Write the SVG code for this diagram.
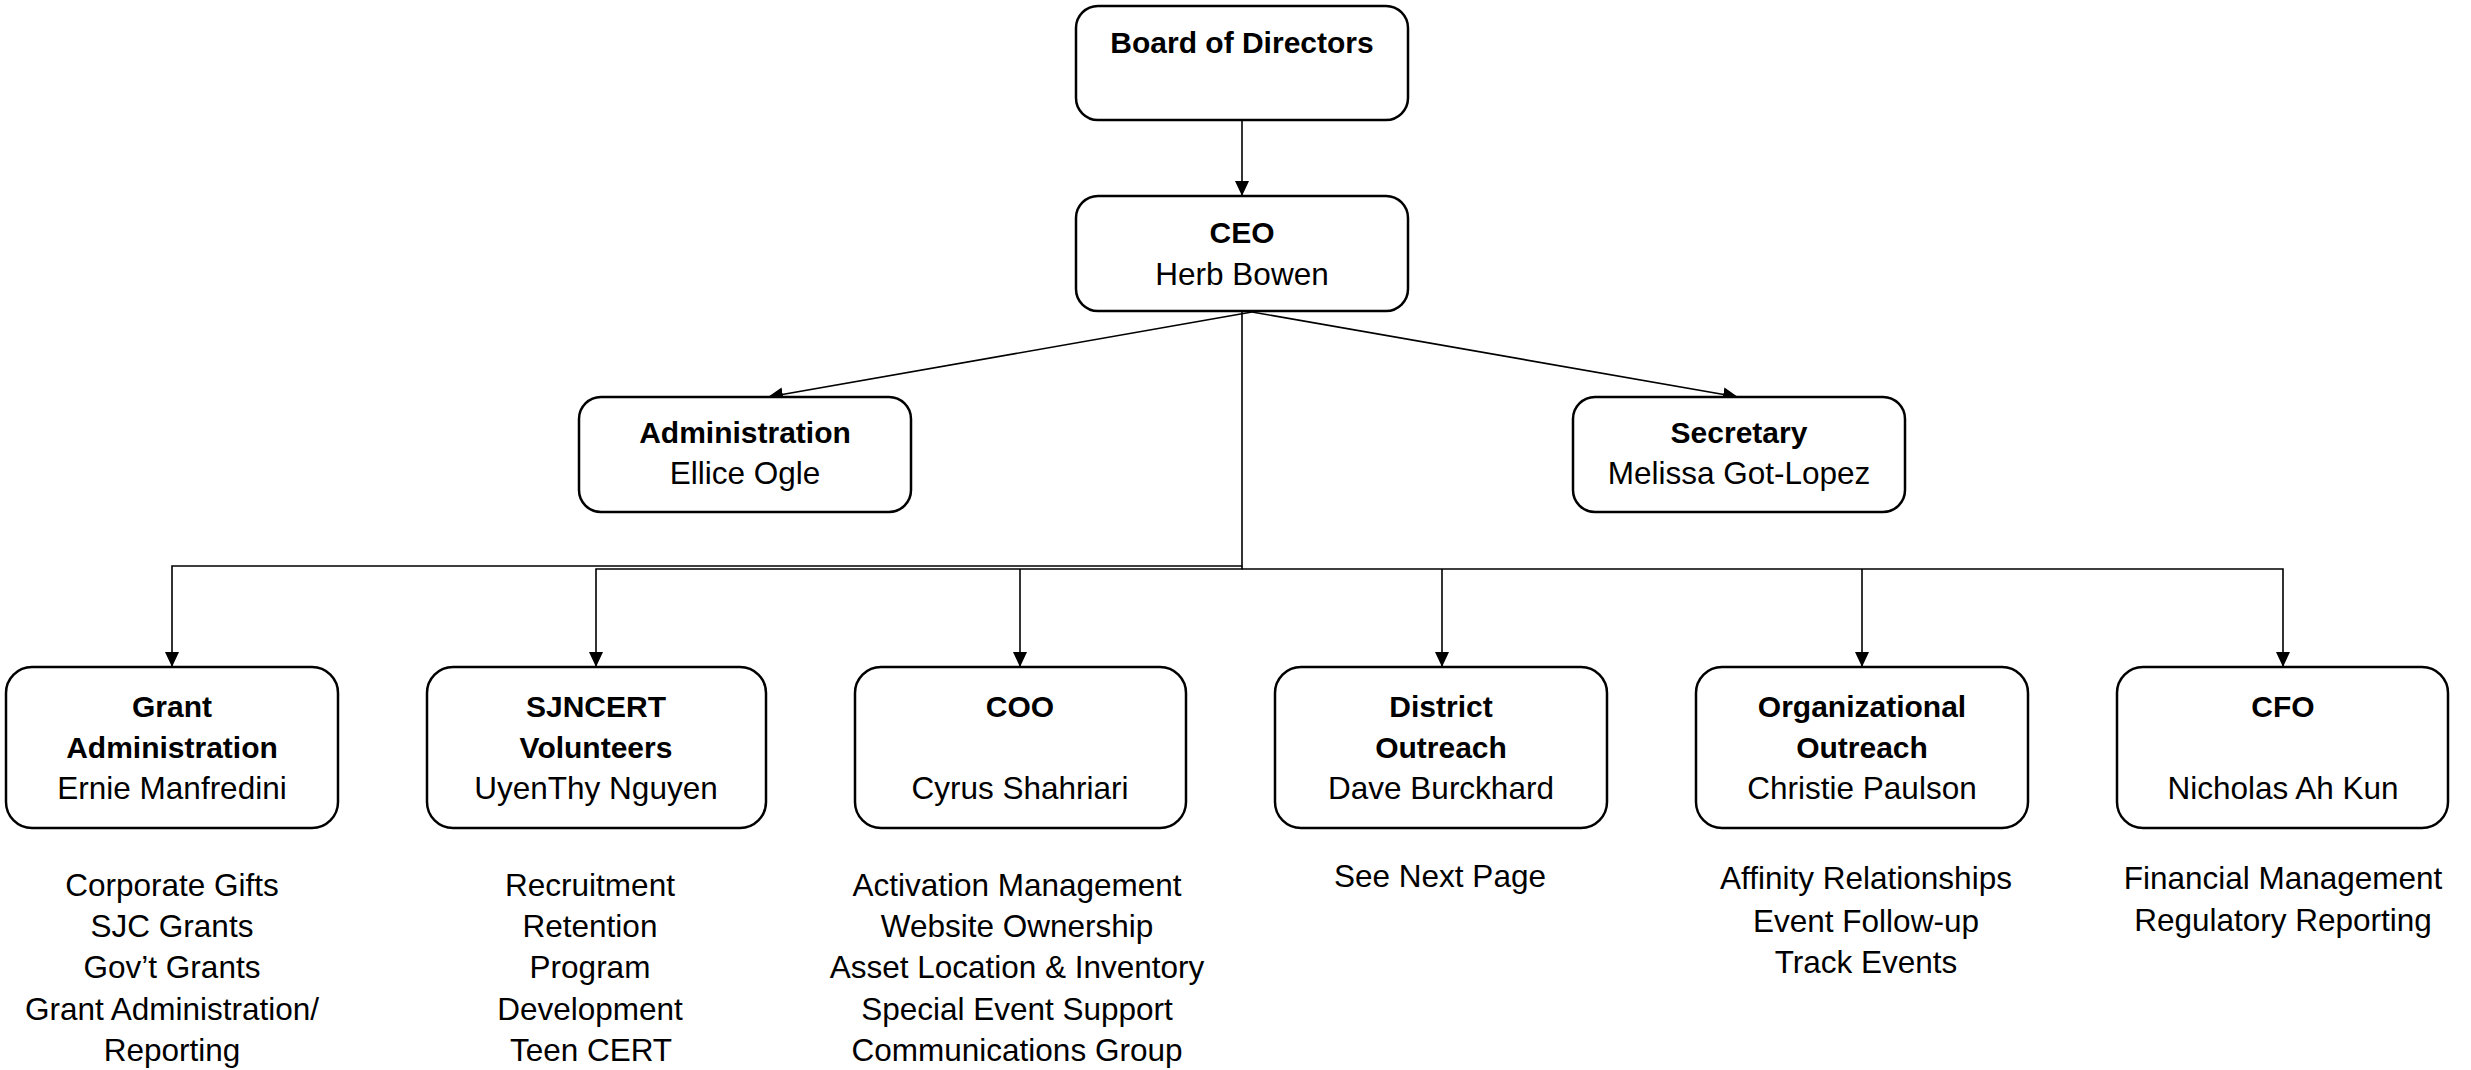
<svg xmlns="http://www.w3.org/2000/svg" width="2471" height="1070" viewBox="0 0 2471 1070">
<defs>
<style>
.box{fill:#fff;stroke:#000;stroke-width:2.5}
.t{font-family:"Liberation Sans",Arial,sans-serif;font-size:31.5px;fill:#000;text-anchor:middle}
.b{font-weight:bold;font-size:30px}
.c{fill:none;stroke:#000;stroke-width:1.6}
</style>
<marker id="arr" markerUnits="userSpaceOnUse" markerWidth="16" markerHeight="16" viewBox="0 0 16 16" refX="15" refY="8" orient="auto">
<path d="M0,1 L15,8 L0,15 Z" fill="#000"/>
</marker>
</defs>
<rect width="2471" height="1070" fill="#fff"/>
<g id="connectors">
<line class="c" x1="1242" y1="120" x2="1242" y2="196" marker-end="url(#arr)"/>
<line class="c" x1="1252" y1="312" x2="768" y2="397" marker-end="url(#arr)"/>
<line class="c" x1="1252" y1="312" x2="1738" y2="397" marker-end="url(#arr)"/>
<polyline class="c" points="1242,311 1242,566 172,566 172,667" marker-end="url(#arr)"/>
<polyline class="c" points="1242,566 1242,569 596,569 596,667" marker-end="url(#arr)"/>
<polyline class="c" points="1020,569 1020,667" marker-end="url(#arr)"/>
<polyline class="c" points="1242,569 2283,569 2283,667" marker-end="url(#arr)"/>
<polyline class="c" points="1442,569 1442,667" marker-end="url(#arr)"/>
<polyline class="c" points="1862,569 1862,667" marker-end="url(#arr)"/>
</g>
<g id="board">
<rect class="box" x="1076" y="6" width="332" height="114" rx="22"/>
<text class="t b" x="1242" y="53">Board of Directors</text>
</g>
<g id="ceo">
<rect class="box" x="1076" y="196" width="332" height="115" rx="22"/>
<text class="t b" x="1242" y="243">CEO</text>
<text class="t" x="1242" y="285">Herb Bowen</text>
</g>
<g id="administration">
<rect class="box" x="579" y="397" width="332" height="115" rx="22"/>
<text class="t b" x="745" y="443">Administration</text>
<text class="t" x="745" y="484">Ellice Ogle</text>
</g>
<g id="secretary">
<rect class="box" x="1573" y="397" width="332" height="115" rx="22"/>
<text class="t b" x="1739" y="443">Secretary</text>
<text class="t" x="1739" y="484">Melissa Got-Lopez</text>
</g>
<g id="grant">
<rect class="box" x="6" y="667" width="332" height="161" rx="26"/>
<text class="t b" x="172" y="717">Grant</text>
<text class="t b" x="172" y="758">Administration</text>
<text class="t" x="172" y="799">Ernie Manfredini</text>
<text class="t" x="172" y="896">Corporate Gifts</text>
<text class="t" x="172" y="937">SJC Grants</text>
<text class="t" x="172" y="978">Gov’t Grants</text>
<text class="t" x="172" y="1020">Grant Administration/</text>
<text class="t" x="172" y="1061">Reporting</text>
</g>
<g id="sjncert">
<rect class="box" x="427" y="667" width="339" height="161" rx="26"/>
<text class="t b" x="596" y="717">SJNCERT</text>
<text class="t b" x="596" y="758">Volunteers</text>
<text class="t" x="596" y="799">UyenThy Nguyen</text>
<text class="t" x="590" y="896">Recruitment</text>
<text class="t" x="590" y="937">Retention</text>
<text class="t" x="590" y="978">Program</text>
<text class="t" x="590" y="1020">Development</text>
<text class="t" x="591" y="1061">Teen CERT</text>
</g>
<g id="coo">
<rect class="box" x="855" y="667" width="331" height="161" rx="26"/>
<text class="t b" x="1020" y="717">COO</text>
<text class="t" x="1020" y="799">Cyrus Shahriari</text>
<text class="t" x="1017" y="896">Activation Management</text>
<text class="t" x="1017" y="937">Website Ownership</text>
<text class="t" x="1017" y="978">Asset Location &amp; Inventory</text>
<text class="t" x="1017" y="1020">Special Event Support</text>
<text class="t" x="1017" y="1061">Communications Group</text>
</g>
<g id="district">
<rect class="box" x="1275" y="667" width="332" height="161" rx="26"/>
<text class="t b" x="1441" y="717">District</text>
<text class="t b" x="1441" y="758">Outreach</text>
<text class="t" x="1441" y="799">Dave Burckhard</text>
<text class="t" x="1440" y="887">See Next Page</text>
</g>
<g id="organizational">
<rect class="box" x="1696" y="667" width="332" height="161" rx="26"/>
<text class="t b" x="1862" y="717">Organizational</text>
<text class="t b" x="1862" y="758">Outreach</text>
<text class="t" x="1862" y="799">Christie Paulson</text>
<text class="t" x="1866" y="889">Affinity Relationships</text>
<text class="t" x="1866" y="932">Event Follow-up</text>
<text class="t" x="1866" y="973">Track Events</text>
</g>
<g id="cfo">
<rect class="box" x="2117" y="667" width="331" height="161" rx="26"/>
<text class="t b" x="2283" y="717">CFO</text>
<text class="t" x="2283" y="799">Nicholas Ah Kun</text>
<text class="t" x="2283" y="889">Financial Management</text>
<text class="t" x="2283" y="931">Regulatory Reporting</text>
</g>
</svg>
